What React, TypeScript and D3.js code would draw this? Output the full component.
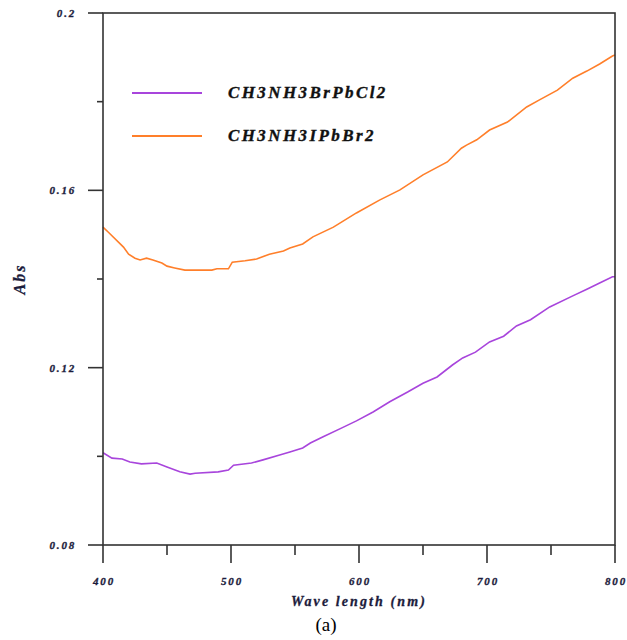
import React from "react";
import * as d3 from "d3";

const seriesNames = ["CH3NH3BrPbCl2", "CH3NH3IPbBr2"];
const seriesColors = ["#a845dc", "#ff7f2a"];

const wlPurple = [400, 407, 415, 421, 430, 442, 450, 460, 468, 472, 490, 498, 502, 516, 525, 538, 546, 556, 562, 572, 585, 598, 611, 624, 638, 650, 661, 673, 681, 691, 702, 713, 723, 734, 749, 767, 778, 788, 798, 800];
const absPurple = [0.1008, 0.0996, 0.0994, 0.0987, 0.0983, 0.0985, 0.0976, 0.0965, 0.096, 0.0962, 0.0965, 0.0969, 0.098, 0.0985, 0.0992, 0.1003, 0.101, 0.1019, 0.103, 0.1044, 0.1062, 0.108, 0.11, 0.1123, 0.1145, 0.1165, 0.1179, 0.1206, 0.1222, 0.1235, 0.1258, 0.1271, 0.1294, 0.1308, 0.1337, 0.1362, 0.1377, 0.1391, 0.1405, 0.1405];

const wlOrange = [400, 404, 416, 420, 425, 429, 434, 439, 446, 450, 456, 464, 485, 489, 498, 501, 511, 520, 530, 541, 546, 556, 564, 580, 598, 616, 632, 650, 669, 680, 684, 692, 702, 716, 731, 741, 755, 767, 778, 788, 798, 800];
const absOrange = [0.1517, 0.1506, 0.1472, 0.1456, 0.1447, 0.1443, 0.1447, 0.1443, 0.1436, 0.1429, 0.1425, 0.142, 0.142, 0.1423, 0.1423, 0.1438, 0.1441, 0.1445, 0.1456, 0.1463, 0.147, 0.1479, 0.1495, 0.1517, 0.1549, 0.1578, 0.1601, 0.1635, 0.1664, 0.1695, 0.1702, 0.1714, 0.1736, 0.1754, 0.1788, 0.1804, 0.1826, 0.1853, 0.1869, 0.1885, 0.1903, 0.1905];

const xMajorTicks = [400, 500, 600, 700, 800];
const xMinorTicks = [450, 550, 650, 750];
const yMajorTicks = [0.08, 0.12, 0.16, 0.2];
const yMinorTicks = [0.1, 0.14, 0.18];
const yTickLabels = ["0.08", "0.12", "0.16", "0.2"];

const xLabel = "Wave length (nm)";
const yLabel = "Abs";
const caption = "(a)";

export default function App() {
  const W = 627, H = 640;
  const L = 103, R = 615, T = 13, B = 545;
  const x = d3.scaleLinear().domain([400, 800]).range([L, R]);
  const y = d3.scaleLinear().domain([0.08, 0.2]).range([B, T]);
  const line = d3.line<[number, number]>().x(d => x(d[0])).y(d => y(d[1]));
  const purple = wlPurple.map((w, i) => [w, absPurple[i]] as [number, number]);
  const orange = wlOrange.map((w, i) => [w, absOrange[i]] as [number, number]);
  const axisColor = "#333";
  const tickFont = { fontFamily: "'Liberation Serif', serif", fontWeight: 700, fontStyle: "italic" as const, fontSize: 11, letterSpacing: 1.8, fill: "#1c1c3c", stroke: "#1c1c3c", strokeWidth: 0.3 };
  return (
    <svg width={W} height={H} style={{ position: "absolute", left: 0, top: 0, background: "#fff" }}>
      <rect x={0} y={0} width={W} height={H} fill="#fff" />
      <path d={line(purple) || ""} fill="none" stroke={seriesColors[0]} strokeWidth={1.6} />
      <path d={line(orange) || ""} fill="none" stroke={seriesColors[1]} strokeWidth={1.6} />
      <rect x={L} y={T} width={R - L} height={B - T} fill="none" stroke={axisColor} strokeWidth={1.6} />
      {xMajorTicks.map(t => (
        <g key={"xm" + t}>
          <line x1={x(t)} x2={x(t)} y1={B} y2={B + 18} stroke={axisColor} strokeWidth={1.6} />
          <text x={x(t) + 1} y={585} textAnchor="middle" {...tickFont}>{t}</text>
        </g>
      ))}
      {xMinorTicks.map(t => (
        <line key={"xn" + t} x1={x(t)} x2={x(t)} y1={B} y2={B + 10} stroke={axisColor} strokeWidth={1.6} />
      ))}
      {yMajorTicks.map((t, i) => (
        <g key={"ym" + t}>
          <line x1={L - 15} x2={L} y1={y(t)} y2={y(t)} stroke={axisColor} strokeWidth={1.6} />
          <text x={76} y={y(t) + 4} textAnchor="end" {...tickFont}>{yTickLabels[i]}</text>
        </g>
      ))}
      {yMinorTicks.map(t => (
        <line key={"yn" + t} x1={L - 6} x2={L} y1={y(t)} y2={y(t)} stroke={axisColor} strokeWidth={1.6} />
      ))}
      <text x={359} y={606} textAnchor="middle" fontFamily="'Liberation Serif', serif" fontWeight={700} fontStyle="italic" fontSize={14} letterSpacing={2.1} fill="#1c1c3c" stroke="#1c1c3c" strokeWidth={0.3}>{xLabel}</text>
      <text transform="translate(25,279) rotate(-90)" textAnchor="middle" fontFamily="'Liberation Serif', serif" fontWeight={700} fontStyle="italic" fontSize={16} letterSpacing={2} fill="#1c1c3c" stroke="#1c1c3c" strokeWidth={0.3}>{yLabel}</text>
      <text x={326} y={631} textAnchor="middle" fontFamily="'Liberation Serif', 'Times New Roman', serif" fontSize={19} fill="#000">{caption}</text>
      {seriesNames.map((n, i) => (
        <g key={n}>
          <line x1={132} x2={202} y1={93 + i * 43} y2={93 + i * 43} stroke={seriesColors[i]} strokeWidth={2} />
          <text x={228} y={98 + i * 43} fontFamily="'Liberation Serif', serif" fontWeight={700} fontStyle="italic" fontSize={17} letterSpacing={2.4} fill="#111" stroke="#111" strokeWidth={0.35}>{n}</text>
        </g>
      ))}
    </svg>
  );
}
